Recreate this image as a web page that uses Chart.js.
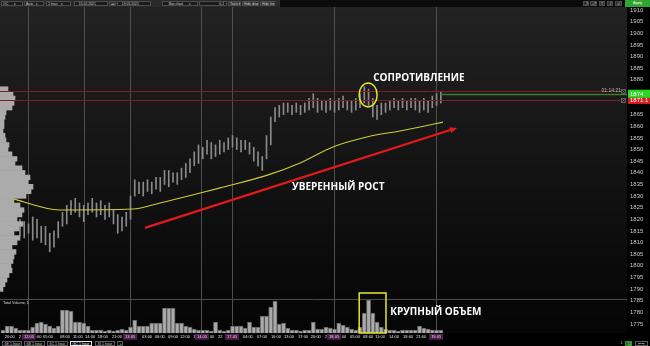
<!DOCTYPE html>
<html>
<head>
<meta charset="utf-8">
<title>GC 1 hour</title>
<script src="https://cdn.jsdelivr.net/npm/chart.js@4.4.1/dist/chart.umd.min.js"></script>
<style>
  html, body { margin: 0; padding: 0; }
  body { width: 650px; height: 346px; position: relative; overflow: hidden; background: #000; font-family: "Liberation Sans", Arial, sans-serif; }
  #plot-bg { position: absolute; left: 0; top: 7px; width: 627px; height: 326px; background: linear-gradient(#222222, #161616 40%, #090909 85%, #050505); }
  #chart-wrap { position: absolute; left: 0; top: 7px; width: 650px; height: 339px; }
  #toolbar { position: absolute; left: 0; top: 0; width: 650px; height: 7px; background: #0b0b0b; }
  #toolbar .strip { position: absolute; left: 0; top: 0; width: 280px; height: 7px; background: #2a2a2a; }
  .ctl { position: absolute; top: 1px; height: 5px; box-sizing: border-box; border: 0.5px solid #4c4c4c; background: #1b1b1b; color: #d6d6d6; font-size: 3.4px; line-height: 4.2px; padding: 0 1px; white-space: nowrap; overflow: hidden; }
  .btn { background: #2f2f2f; text-align: center; }
  #apply { top: 0; height: 7px; line-height: 7px; background: #2fa42f; color: #fff; text-align: center; border: none; font-size: 3.6px; }
  #tabs { position: absolute; left: 0; top: 340px; width: 650px; height: 6px; background: #000; }
  .tab { position: absolute; top: 0.5px; height: 5px; box-sizing: border-box; border: 0.5px solid #5a5a5a; color: #cfcfcf; font-size: 3.6px; line-height: 4.2px; padding: 0 1.5px; white-space: nowrap; }
  .tab.on { border-color: #e8e8e8; color: #fff; }
</style>
</head>
<body>
<div id="toolbar">
  <div class="strip"></div>
  <span class="ctl" style="left:1px;width:22px">OC &nbsp;&nbsp;&nbsp;&nbsp;&nbsp;&#9662;</span>
  <span class="ctl" style="left:24px;width:20px">Auto &nbsp;&nbsp;&#9662;</span>
  <span class="ctl" style="left:46px;width:25px">1 hour &nbsp;&nbsp;&nbsp;&#9662;</span>
  <span class="ctl" style="left:74px;width:34px">&nbsp;&nbsp;&nbsp;15.02.2021</span>
  <span class="ctl btn" style="left:109px;width:7px">&#9666;&#9656;</span>
  <span class="ctl" style="left:117px;width:34px">&nbsp;&nbsp;&nbsp;19.05.2021</span>
  <span class="ctl" style="left:162px;width:36px">&nbsp;&nbsp;&nbsp;&nbsp;&nbsp;Box chart &nbsp;&nbsp;&nbsp;&nbsp;&nbsp;&#9662;</span>
  <span class="ctl" style="left:199px;width:28px;text-align:right">0.1&nbsp;</span>
  <span class="ctl btn" style="left:228px;width:13px">Tools bar</span>
  <span class="ctl btn" style="left:242px;width:17px">Hide drawing</span>
  <span class="ctl btn" style="left:260px;width:15px">Hide lines</span>
  <span class="ctl btn" style="left:583px;width:6px">-7</span>
  <span class="ctl btn" style="left:590px;width:7px">+7</span>
  <span class="ctl btn" style="left:599px;width:6px">T</span>
  <span class="ctl btn" style="left:607px;width:6px">-I</span>
  <span class="ctl btn" style="left:615px;width:7px">+I</span>
  <span class="ctl" id="apply" style="left:625px;width:25px">Apply</span>
</div>
<div id="plot-bg"></div>
<div id="chart-wrap"><canvas id="chart" width="650" height="339"></canvas></div>
<div id="tabs">
  <span class="tab" style="left:2px;width:20px">6E 1 hour</span>
  <span class="tab" style="left:24px;width:21px">6B 1 hour</span>
  <span class="tab" style="left:47px;width:21px">6C 1 hour</span>
  <span class="tab on" style="left:70px;width:22px">GC 1 hour</span>
  <span class="tab" style="left:95px;width:20px">SI 1 hour</span>
  <span class="tab" style="left:117px;width:6px">+</span>
  <span class="tab" style="left:619px;width:4px;border:none">1</span>
  <span class="tab" style="left:625px;width:7px;background:#1f5f1f;color:#7fff7f;border-color:#2f8f2f">11</span>
  <span class="tab" style="left:635px;width:13px">&#8676; &#8677;</span>
</div>
<script>
// GC, 1 hour bars (index = bar number), prices
const lows = [
  1818, 1816, 1814, 1815, 1813, 1812, 1814, 1811, 1812, 1810,
  1809, 1806, 1808, 1812, 1817, 1818, 1822, 1823, 1821, 1819,
  1822, 1823, 1821, 1822, 1820, 1821, 1818, 1814, 1815, 1817,
  1820, 1830, 1831, 1830, 1832, 1831, 1833, 1832, 1835, 1834,
  1836, 1835, 1837, 1838, 1840, 1843, 1844, 1846, 1848, 1846,
  1847, 1848, 1849, 1850, 1851, 1850, 1849, 1850, 1848, 1845,
  1843, 1841, 1846, 1852, 1862, 1864, 1865, 1866, 1865, 1866,
  1865, 1866, 1867, 1868, 1866, 1867, 1866, 1867, 1866, 1867,
  1868, 1867, 1866, 1867, 1868, 1870, 1869, 1864, 1863, 1865,
  1866, 1867, 1868, 1867, 1868, 1867, 1868, 1867, 1866, 1867,
  1866, 1868, 1869, 1870
];
const highs = [
  1823, 1822, 1820, 1821, 1820, 1819, 1818, 1821, 1820, 1817,
  1817, 1814, 1815, 1819, 1823, 1826, 1828, 1829, 1827, 1826,
  1827, 1829, 1827, 1828, 1826, 1827, 1824, 1822, 1821, 1823,
  1830, 1837, 1836, 1836, 1837, 1836, 1838, 1838, 1841, 1841,
  1840, 1840, 1842, 1844, 1846, 1849, 1852, 1851, 1854, 1853,
  1852, 1854, 1853, 1855, 1856, 1855, 1854, 1854, 1853, 1851,
  1849, 1847, 1856, 1864, 1868, 1869, 1870, 1870, 1869, 1870,
  1869, 1870, 1872, 1874, 1872, 1871, 1871, 1872, 1871, 1872,
  1873, 1871, 1871, 1872, 1874, 1877, 1876, 1872, 1869, 1870,
  1870, 1871, 1872, 1871, 1872, 1871, 1872, 1872, 1871, 1872,
  1871, 1873, 1874, 1875
];
// total volume per bar (thousand contracts)
const volumes = [
  3, 7, 7, 5, 3, 3, 3, 6, 10, 11,
  9, 7, 5, 7, 23, 23, 22, 11, 11, 10,
  7, 3, 3, 3, 2, 3, 2, 3, 4, 3,
  6, 13, 7, 7, 7, 10, 10, 10, 25, 25,
  25, 10, 10, 7, 6, 4, 3, 3, 3, 2,
  11, 3, 2, 3, 7, 7, 7, 5, 11, 6,
  6, 17, 17, 26, 32, 9, 10, 5, 3, 3,
  2, 3, 3, 11, 4, 4, 6, 5, 4, 10,
  8, 6, 4, 3, 6, 20, 33, 20, 11, 6,
  4, 3, 3, 2, 3, 3, 3, 3, 7, 5,
  4, 3, 3, 3
];
// moving average (yellow), read at a few bars
const maIdx = [1.6, 13.4, 30.6, 36.9, 46.4, 51.1, 62.4, 69.9, 77.6, 85.6, 93.4, 98.1, 103.5];
const maValues = [1829.2, 1824.0, 1824.4, 1827.0, 1831.3, 1833.5, 1839.1, 1844.2, 1851.1, 1855.4, 1858.0, 1859.7, 1861.8];
// volume profile on the left edge
const profilePrices = [
  1876, 1874, 1872, 1870, 1868, 1866, 1864, 1862, 1860, 1858,
  1856, 1854, 1852, 1850, 1848, 1846, 1844, 1842, 1840, 1838,
  1836, 1834, 1832, 1830, 1828, 1826, 1824, 1822, 1820, 1818,
  1816, 1814, 1812, 1810, 1808, 1806, 1804, 1802, 1800, 1798,
  1796, 1794, 1792, 1790
];
const profileVolume = [
  8, 13, 15, 14, 12, 6, 5, 4, 4, 3,
  5, 6, 9, 8, 12, 17, 15, 22, 25, 30,
  28, 33, 31, 26, 14, 20, 24, 22, 17, 23,
  19, 14, 20, 17, 12, 16, 14, 13, 11, 12,
  9, 7, 5, 3
];
const yTicks = [1910, 1905, 1900, 1895, 1890, 1885, 1880, 1865, 1860, 1855, 1850, 1845, 1840, 1835,
  1830, 1825, 1820, 1815, 1810, 1805, 1800, 1795, 1790, 1785, 1780, 1775];
const separators = [6.1, 19.1, 29.9, 46.8, 53.9, 77.9, 101.9];
const timeLabelIdx = [1.6, 4.0, 6.1, 8.4, 10.6, 14.6, 17.6, 20.5, 23.5, 26.8, 29.9, 33.9, 36.9, 40.0, 42.8, 45.1,
  46.8, 49.2, 51.1, 53.9, 57.6, 60.9, 64.2, 67.3, 70.6, 73.6, 76.0, 77.9, 80.2, 82.8, 85.9, 88.7,
  92.0, 95.3, 98.4, 101.9];
const timeLabels = ['20:00', '2', '12.05', ':00', '05:00', '08:00', '11:00', '14:00', '18:00', '21:00', '13.05',
  '03:00', '06:00', '09:00', '12:00', '1', '14.05', '00', '22', '17.05', '04:00', '07:00', '10:00', '13:00',
  '17:00', '20:00', '2', '18.05', '00', '05:00', '08:00', '11:00', '14:00', '18:00', '21:00', '19.05'];

const resistance = [1875, 1871.1];
const lastPrice = 1874;
const timer = '01:14:21';
const trendFrom = { i: 33.4, p: 1816.3 };
const trendTo = { i: 106.8, p: 1859.3 };
const volPaneTop = 34;

const xMin = -0.7, xMax = 146.8;
const yMin = 1771.1, yMax = 1911.3;
const yellow = '#e6e62c';
const isDate = i => timeLabels[i] && timeLabels[i].includes('.');
const noPad = s => { s.paddingTop = 0; s.paddingBottom = 0; s.paddingLeft = 0; s.paddingRight = 0; };

const drawings = {
  id: 'drawings',
  beforeDatasetsDraw(chart) {
    const { ctx, chartArea: a, scales } = chart;
    const sepY = Math.round(scales.yVol.getPixelForValue(volPaneTop)) + 0.5;
    ctx.save();
    ctx.strokeStyle = '#4a4a4a';
    ctx.lineWidth = 1;
    ctx.beginPath(); ctx.moveTo(a.left, sepY); ctx.lineTo(a.right, sepY); ctx.stroke();
    ctx.fillStyle = '#dcdcdc';
    ctx.font = '3.8px "Liberation Sans"';
    ctx.textBaseline = 'top';
    ctx.fillText('Total Volume, 1', a.left + 3, sepY + 1.5);
    ctx.restore();
  },
  afterDatasetsDraw(chart) {
    const { ctx, chartArea: a, scales: { x, y, yVol } } = chart;
    ctx.save();

    // resistance lines with the little close boxes
    resistance.forEach(level => {
      const py = Math.round(y.getPixelForValue(level)) + 0.5;
      ctx.strokeStyle = '#7e1f1f';
      ctx.lineWidth = 1;
      ctx.beginPath(); ctx.moveTo(a.left, py); ctx.lineTo(a.right - 6, py); ctx.stroke();
      ctx.strokeStyle = '#8c8c8c';
      ctx.lineWidth = 0.6;
      ctx.strokeRect(a.right - 5.5, py - 2, 4, 4);
      ctx.beginPath();
      ctx.moveTo(a.right - 4.7, py - 1.2); ctx.lineTo(a.right - 2.3, py + 1.2);
      ctx.moveTo(a.right - 2.3, py - 1.2); ctx.lineTo(a.right - 4.7, py + 1.2);
      ctx.stroke();
    });

    // current price line
    const pl = Math.round(y.getPixelForValue(lastPrice)) + 0.5;
    ctx.strokeStyle = '#3f7a2c';
    ctx.lineWidth = 1.4;
    ctx.beginPath(); ctx.moveTo(x.getPixelForValue(lows.length - 1), pl); ctx.lineTo(a.right, pl); ctx.stroke();
    ctx.fillStyle = '#bdbdbd';
    ctx.font = '5px "Liberation Sans"';
    ctx.textAlign = 'right';
    ctx.textBaseline = 'bottom';
    ctx.fillText(timer, a.right - 6, pl - 1.5);

    // trend arrow
    const x1 = x.getPixelForValue(trendFrom.i), y1 = y.getPixelForValue(trendFrom.p);
    const x2 = x.getPixelForValue(trendTo.i), y2 = y.getPixelForValue(trendTo.p);
    const ang = Math.atan2(y2 - y1, x2 - x1);
    const head = 7, half = 3;
    ctx.strokeStyle = '#e41a1a';
    ctx.fillStyle = '#e41a1a';
    ctx.lineWidth = 2.2;
    ctx.beginPath();
    ctx.moveTo(x1, y1);
    ctx.lineTo(x2 - head * Math.cos(ang), y2 - head * Math.sin(ang));
    ctx.stroke();
    ctx.beginPath();
    ctx.moveTo(x2, y2);
    ctx.lineTo(x2 - head * Math.cos(ang) + half * Math.sin(ang), y2 - head * Math.sin(ang) - half * Math.cos(ang));
    ctx.lineTo(x2 - head * Math.cos(ang) - half * Math.sin(ang), y2 - head * Math.sin(ang) + half * Math.cos(ang));
    ctx.closePath();
    ctx.fill();

    // resistance highlight ellipse
    ctx.strokeStyle = yellow;
    ctx.lineWidth = 1.5;
    ctx.beginPath();
    ctx.ellipse(x.getPixelForValue(85.9), y.getPixelForValue(1873.5), 9, 12, 0, 0, Math.PI * 2);
    ctx.stroke();

    // big volume box
    const bx1 = x.getPixelForValue(83.8), bx2 = x.getPixelForValue(90.1);
    const by1 = yVol.getPixelForValue(40), by2 = yVol.getPixelForValue(0);
    ctx.strokeRect(bx1, by1, bx2 - bx1, by2 - by1);

    // captions
    ctx.fillStyle = '#ffffff';
    ctx.font = 'bold 10px "Open Sans"';
    ctx.textAlign = 'left';
    ctx.textBaseline = 'middle';
    ctx.fillText('СОПРОТИВЛЕНИЕ', x.getPixelForValue(87.1), y.getPixelForValue(1880.8));
    ctx.fillText('УВЕРЕННЫЙ РОСТ', x.getPixelForValue(68.0), y.getPixelForValue(1833.7));
    ctx.fillText('КРУПНЫЙ ОБЪЕМ', x.getPixelForValue(91.1), yVol.getPixelForValue(21));
    ctx.restore();
  },
  afterDraw(chart) {
    const { ctx, chartArea: a, scales: { y } } = chart;
    ctx.save();
    ctx.font = '6px "Liberation Sans"';
    ctx.textBaseline = 'middle';
    ctx.textAlign = 'left';
    const boxes = [
      { v: resistance[1], text: '1871.1', bg: '#d41c1c', h: 7 },
      { v: lastPrice, text: String(lastPrice), bg: '#27d827', h: 8 }
    ];
    boxes.forEach(b => {
      const py = y.getPixelForValue(b.v);
      ctx.fillStyle = b.bg;
      ctx.fillRect(a.right + 1, py - b.h / 2, chart.width - a.right - 1, b.h);
      ctx.fillStyle = '#ffffff';
      ctx.fillText(b.text, a.right + 3, py + 0.3);
    });
    ctx.restore();
  }
};

new Chart(document.getElementById('chart'), {
  type: 'bar',
  data: {
    datasets: [
      {
        type: 'bar', label: 'Profile', indexAxis: 'y', xAxisID: 'xProf', yAxisID: 'yProf',
        data: profilePrices.map((p, i) => ({ x: profileVolume[i], y: p })),
        backgroundColor: '#ababab', barPercentage: 1, categoryPercentage: 1, grouped: false, order: 0
      },
      {
        type: 'line', label: 'MA', xAxisID: 'x', yAxisID: 'y',
        data: maIdx.map((v, i) => ({ x: v, y: maValues[i] })),
        borderColor: '#cccc38', borderWidth: 1.1, pointRadius: 0, cubicInterpolationMode: 'monotone', order: 1
      },
      {
        type: 'bar', label: 'GC', xAxisID: 'x', yAxisID: 'y',
        data: lows.map((l, i) => ({ x: i, y: [l, highs[i]] })),
        backgroundColor: '#8a8a8a', barThickness: 1, grouped: false, order: 2
      },
      {
        type: 'bar', label: 'Total Volume', xAxisID: 'x', yAxisID: 'yVol',
        data: volumes.map((v, i) => ({ x: i, y: v })),
        backgroundColor: '#aaaaaa', borderColor: '#5e5e5e', borderWidth: 1,
        barPercentage: 1, categoryPercentage: 1, grouped: false, order: 3
      }
    ]
  },
  options: {
    responsive: false,
    devicePixelRatio: 1,
    animation: false,
    events: [],
    layout: { padding: 0 },
    plugins: { legend: { display: false }, tooltip: { enabled: false } },
    scales: {
      x: {
        type: 'linear', axis: 'x', position: 'bottom', min: xMin, max: xMax, offset: false,
        grid: { display: false, drawTicks: false, offset: false }, border: { display: false },
        afterBuildTicks: s => { s.ticks = timeLabelIdx.map(v => ({ value: v })); },
        afterFit: s => { s.height = 13; noPad(s); },
        ticks: {
          autoSkip: false, maxRotation: 0, minRotation: 0, padding: 1.5,
          font: { family: 'Liberation Sans', size: 4 },
          color: c => isDate(c.index) ? '#f2c6f2' : '#e4e4e4',
          callback: (v, i) => timeLabels[i],
          showLabelBackdrop: c => isDate(c.index),
          backdropColor: '#4d1e4b',
          backdropPadding: { top: 0.5, bottom: 0.5, left: 2, right: 2 }
        }
      },
      xSep: {
        type: 'linear', axis: 'x', position: 'top', min: xMin, max: xMax, offset: false,
        grid: { color: '#4f4f4f', lineWidth: 1, drawTicks: false, offset: false }, border: { display: false },
        ticks: { display: false },
        afterBuildTicks: s => { s.ticks = separators.map(v => ({ value: v })); },
        afterFit: s => { s.height = 0; noPad(s); }
      },
      xProf: { type: 'linear', axis: 'x', display: false, min: 0, max: 627, offset: false },
      y: {
        type: 'linear', axis: 'y', position: 'right', min: yMin, max: yMax, offset: false,
        grid: { display: false, drawTicks: false }, border: { display: false },
        afterBuildTicks: s => { s.ticks = yTicks.map(v => ({ value: v })); },
        afterFit: s => { s.width = 23; noPad(s); },
        ticks: { padding: 3, color: '#c9c9c9', font: { family: 'Liberation Sans', size: 6 }, callback: v => String(v) }
      },
      yProf: { type: 'linear', axis: 'y', display: false, min: yMin, max: yMax, offset: false },
      yVol: { type: 'linear', axis: 'y', display: false, min: 0, max: 326, offset: false }
    }
  },
  plugins: [drawings]
});
</script>
</body>
</html>
